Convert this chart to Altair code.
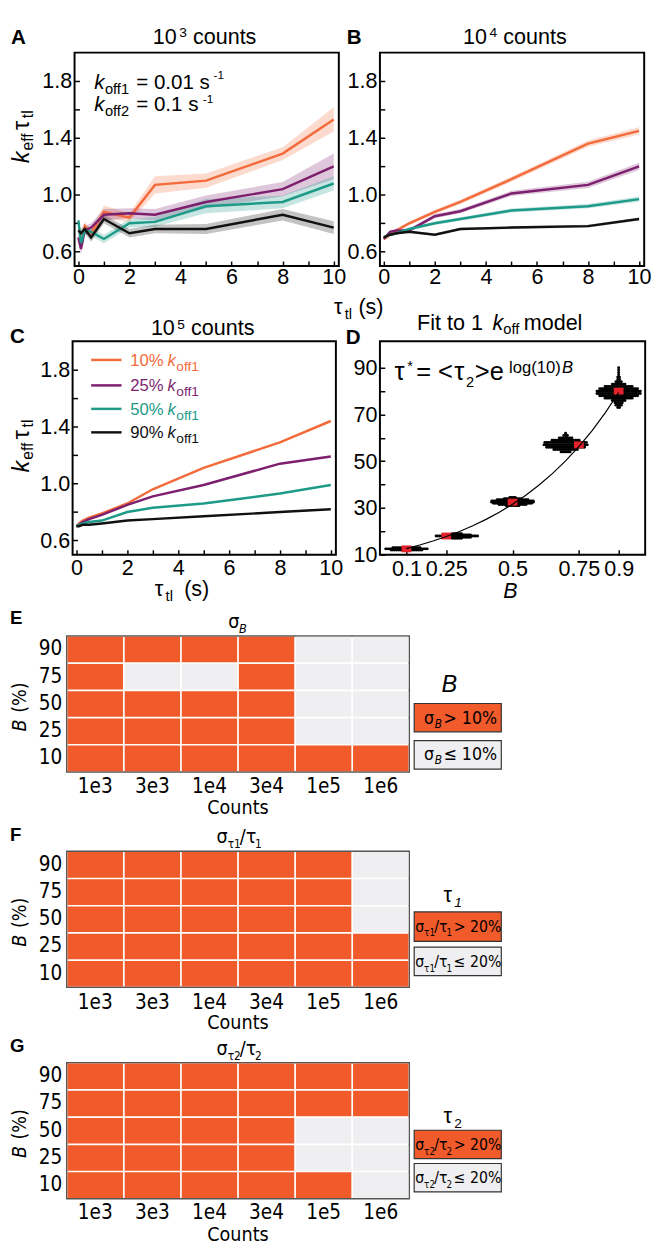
import altair as alt
import pandas as pd

SANS = "Liberation Sans"
NARROW = "'Liberation Sans Narrow', 'DejaVu Sans Condensed', 'Liberation Sans', sans-serif"
ORANGE = "#F15A2B"
GRAY = "#EFEFF1"
RED = "#E4222B"

# ---------------- data ----------------
TAU_TL = [0, 0.1, 0.25, 0.5, 1, 2, 3, 5, 8, 10]
SERIES = ["10% koff1", "25% koff1", "50% koff1", "90% koff1"]
LINE_COLORS = ["#F36B3B", "#7D1F6F", "#1E9A89", "#111111"]

# panel A: 10^3 counts
A_10 = [0.68, 0.66, 0.78, 0.73, 0.88, 0.84, 1.07, 1.10, 1.29, 1.53]
A_25 = [0.70, 0.62, 0.75, 0.77, 0.86, 0.87, 0.86, 0.95, 1.04, 1.20]
A_50 = [0.82, 0.66, 0.75, 0.74, 0.69, 0.80, 0.81, 0.92, 0.95, 1.08]
A_90 = [0.75, 0.73, 0.76, 0.70, 0.83, 0.73, 0.76, 0.76, 0.86, 0.77]
A_10_ERR = [0.03, 0.03, 0.03, 0.03, 0.045, 0.03, 0.06, 0.05, 0.045, 0.085]
A_25_ERR = [0.03, 0.04, 0.03, 0.03, 0.04, 0.035, 0.04, 0.045, 0.05, 0.09]
A_50_ERR = [0.03, 0.04, 0.03, 0.03, 0.03, 0.03, 0.035, 0.05, 0.045, 0.05]
A_90_ERR = [0.03, 0.03, 0.03, 0.03, 0.03, 0.03, 0.03, 0.035, 0.04, 0.045]

# panel B: 10^4 counts
B_10 = [0.69, 0.70, 0.72, 0.75, 0.80, 0.88, 0.95, 1.11, 1.36, 1.45]
B_25 = [0.69, 0.71, 0.74, 0.75, 0.75, 0.85, 0.885, 1.01, 1.07, 1.20]
B_50 = [0.70, 0.71, 0.72, 0.73, 0.76, 0.80, 0.83, 0.89, 0.92, 0.97]
B_90 = [0.70, 0.71, 0.72, 0.73, 0.74, 0.72, 0.76, 0.77, 0.78, 0.83]
B_10_ERR = [0.01, 0.01, 0.01, 0.012, 0.012, 0.015, 0.015, 0.018, 0.022, 0.025]
B_25_ERR = [0.01, 0.01, 0.01, 0.012, 0.012, 0.015, 0.015, 0.018, 0.022, 0.025]
B_50_ERR = [0.01, 0.01, 0.01, 0.01, 0.01, 0.012, 0.012, 0.014, 0.015, 0.018]
B_90_ERR = [0.008, 0.008, 0.008, 0.008, 0.008, 0.008, 0.008, 0.01, 0.01, 0.01]

# panel C: 10^5 counts
C_10 = [0.70, 0.72, 0.74, 0.76, 0.79, 0.86, 0.96, 1.11, 1.29, 1.44]
C_25 = [0.70, 0.71, 0.73, 0.75, 0.78, 0.85, 0.91, 0.99, 1.14, 1.19]
C_50 = [0.70, 0.71, 0.72, 0.73, 0.74, 0.80, 0.83, 0.86, 0.93, 0.99]
C_90 = [0.70, 0.70, 0.71, 0.71, 0.72, 0.74, 0.75, 0.77, 0.80, 0.82]

# panel D: fit to 1 koff model
D_B = [0.1, 0.25, 0.5, 0.75, 0.9]
D_MEAN = [12.5, 18.0, 32.5, 57.0, 80.0]
D_CLUSTER_X = [0.10, 0.29, 0.50, 0.70, 0.90]
D_LEVELS = [
    [12.0, 12.5, 13.0],
    [17.0, 17.5, 18.0, 18.5, 19.0],
    [31.0, 31.5, 32.0, 32.5, 33.0, 33.5, 34.0, 34.5],
    [54, 55, 56, 57, 58, 59, 60, 61, 62],
    [73, 74, 75, 76, 77, 78, 79, 80, 81, 82, 83, 84, 85, 86, 87, 88, 89, 90],
]
D_COUNTS = [
    [18, 24, 16],
    [6, 16, 24, 16, 6],
    [8, 16, 22, 24, 24, 18, 10, 4],
    [6, 14, 22, 25, 24, 16, 8, 3, 1],
    [2, 4, 5, 8, 16, 22, 25, 25, 22, 16, 8, 4, 2, 2, 1, 1, 1, 1],
]
FIT_B = [0.10, 0.15, 0.20, 0.25, 0.30, 0.35, 0.40, 0.45, 0.50, 0.55, 0.60, 0.65, 0.70, 0.75, 0.80, 0.85, 0.90]
FIT_TAU = [12.59, 14.13, 15.85, 17.78, 19.95, 22.39, 25.12, 28.18, 31.62, 35.48, 39.81, 44.67, 50.12, 56.23, 63.10, 70.79, 79.43]

# panels E-G: heatmaps (1 = above threshold)
COUNTS = ["1e3", "3e3", "1e4", "3e4", "1e5", "1e6"]
B_PCT = ["90", "75", "50", "25", "10"]
E_HI = [[1, 1, 1, 1, 0, 0], [1, 0, 0, 1, 0, 0], [1, 1, 1, 1, 0, 0], [1, 1, 1, 1, 0, 0], [1, 1, 1, 1, 1, 1]]
F_HI = [[1, 1, 1, 1, 1, 0], [1, 1, 1, 1, 1, 0], [1, 1, 1, 1, 1, 0], [1, 1, 1, 1, 1, 1], [1, 1, 1, 1, 1, 1]]
G_HI = [[1, 1, 1, 1, 1, 1], [1, 1, 1, 1, 1, 1], [1, 1, 1, 1, 0, 0], [1, 1, 1, 1, 0, 0], [1, 1, 1, 1, 1, 0]]

ONE = pd.DataFrame({"k": [0]})

GAP1, GAP2, GAP3, GAP4 = 295, 301, 81, 77


def T(o, s, sx, sy, size, italic=False, bold=False, color="black", angle=None,
      align="left", font=SANS):
    kw = dict(align=align, baseline="alphabetic", fontSize=size, font=font, color=color)
    if italic:
        kw["fontStyle"] = "italic"
    if bold:
        kw["fontWeight"] = "bold"
    if angle is not None:
        kw["angle"] = angle
    return alt.Chart(ONE).mark_text(**kw).encode(
        x=alt.value(sx - o[0]), y=alt.value(sy - o[1]), text=alt.value(s))


def spacer(w, h):
    return alt.Chart(ONE).mark_point(opacity=0).encode(
        x=alt.value(0), y=alt.value(0)
    ).properties(width=w, height=h, view=alt.ViewBackground(stroke=None))


def x_axis_lin(pad):
    return alt.Axis(values=list(range(11)),
                    labelExpr="datum.value % 2 == 0 ? format(datum.value, 'd') : ''",
                    tickSize=5, offset=-5, labelPadding=pad, labelFont=SANS,
                    labelFontSize=22, labelColor="black", tickColor="black",
                    tickWidth=1.5, domain=False, grid=False, title=None,
                    labelFlush=False, labelOverlap=False)


def y_axis_lin():
    return alt.Axis(values=[0.6, 0.8, 1.0, 1.2, 1.4, 1.6, 1.8],
                    labelExpr="round(datum.value*10) % 4 == 2 ? format(datum.value, '.1f') : ''",
                    tickSize=5, offset=-5, labelPadding=3, labelFont=SANS,
                    labelFontSize=22, labelColor="black", tickColor="black",
                    tickWidth=1.5, domain=False, grid=False, title=None,
                    labelOverlap=False)


def line_panel(ys, errs, xpad):
    rows = []
    for s, c, vals, er in zip(SERIES, LINE_COLORS, ys, errs):
        for x, v, e in zip(TAU_TL, vals, er):
            rows.append({"series": s, "col": c, "x": x, "y": v, "lo": v - e, "hi": v + e})
    df = pd.DataFrame(rows)
    xs = alt.Scale(domain=[-0.15, 10.2], nice=False, zero=False)
    ysc = alt.Scale(domain=[0.5, 2.0], nice=False, zero=False)
    col = alt.Color("col:N", scale=None)
    X = alt.X("x:Q", scale=xs, axis=x_axis_lin(xpad))
    layers = []
    if any(any(e > 0 for e in er) for er in errs):
        layers.append(alt.Chart(df).mark_area(opacity=0.25, clip=True).encode(
            x=X, y=alt.Y("lo:Q", scale=ysc, axis=y_axis_lin()), y2="hi:Q", color=col,
            detail="series:N"))
    layers.append(alt.Chart(df).mark_line(strokeWidth=2.5, clip=True).encode(
        x=X, y=alt.Y("y:Q", scale=ysc, axis=y_axis_lin()), color=col, detail="series:N"))
    return layers


def ytitle_k(o, x, y0):
    # k_eff tau_tl rotated, reading upward from (x, y0)
    return [T(o, "k", x, y0, 24, italic=True, angle=270),
            T(o, "eff", x + 5, y0 - 13, 16, angle=270),
            T(o, "\u03c4", x, y0 - 34, 24, angle=270),
            T(o, "tl", x + 5, y0 - 46, 16, angle=270)]


def title_counts(o, exp, x, y):
    return [T(o, "10", x, y, 22), T(o, exp, x + 27, y - 7, 14), T(o, "counts", x + 41, y, 22)]


FRAME = alt.ViewBackground(stroke="black", strokeWidth=2)

# ---------------- panel A ----------------
oA = (75, 39)
a_layers = line_panel([A_10, A_25, A_50, A_90], [A_10_ERR, A_25_ERR, A_50_ERR, A_90_ERR], 1)
a_layers += [T(oA, "A", 10, 30, 21, bold=True)]
a_layers += title_counts(oA, "3", 155, 30)
a_layers += ytitle_k(oA, 28, 152)
a_layers += [T(oA, "k", 95, 76, 21, italic=True), T(oA, "off1", 106, 81, 15),
             T(oA, "= 0.01 s", 138, 76, 21), T(oA, "-1", 217, 66, 12),
             T(oA, "k", 95, 99, 21, italic=True), T(oA, "off2", 106, 104, 15),
             T(oA, "= 0.1 s", 138, 99, 21), T(oA, "-1", 206, 90, 12)]
a_layers += [T(oA, "\u03c4", 340, 306, 22), T(oA, "tl", 351, 311, 15), T(oA, "(s)", 365, 306, 22)]
a_layers += [alt.Chart(ONE).mark_rect(opacity=0).encode(
    x=alt.value(8 - oA[0]), x2=alt.value(8 - oA[0]), y=alt.value(8 - oA[1]), y2=alt.value(8 - oA[1]))]
panelA = alt.layer(*a_layers).properties(width=270, height=218, view=FRAME)

# ---------------- panel B ----------------
oB = (387, 39)
b_layers = line_panel([B_10, B_25, B_50, B_90], [B_10_ERR, B_25_ERR, B_50_ERR, B_90_ERR], 1)
b_layers += [T(oB, "B", 353, 30, 21, bold=True)]
b_layers += title_counts(oB, "4", 472, 30)
panelB = alt.layer(*b_layers).properties(width=270, height=218, view=FRAME)

# ---------------- panel C ----------------
oC = (73, 334)
zero = [0] * 10
c_layers = line_panel([C_10, C_25, C_50, C_90], [zero, zero, zero, zero], 3)
c_layers += [T(oC, "C", 9, 336, 21, bold=True)]
c_layers += title_counts(oC, "5", 153, 328)
c_layers += ytitle_k(oC, 28, 468)
leg_y = [353, 379, 403, 427]
for s, c, ly in zip(["10%", "25%", "50%", "90%"], LINE_COLORS, leg_y):
    c_layers.append(alt.Chart(ONE).mark_rule(color=c, strokeWidth=2.5).encode(
        x=alt.value(92 - oC[0]), x2=alt.value(123 - oC[0]), y=alt.value(ly - oC[1])))
    c_layers += [T(oC, s, 132, ly + 6, 17, color=c), T(oC, "k", 170, ly + 6, 17, italic=True, color=c),
                 T(oC, "off1", 179, ly + 11, 14, color=c)]
c_layers += [T(oC, "\u03c4", 157, 594, 22), T(oC, "tl", 168, 599, 15), T(oC, "(s)", 187, 594, 22)]
panelC = alt.layer(*c_layers).properties(width=269, height=218, view=FRAME)

# ---------------- panel D ----------------
oD = (387, 334)
DX = 0.0068
dots = []
for cx, levels, counts in zip(D_CLUSTER_X, D_LEVELS, D_COUNTS):
    for lv, n in zip(levels, counts):
        for i in range(n):
            dots.append({"B": cx + (i - (n - 1) / 2) * DX, "tau": lv})
dots_df = pd.DataFrame(dots)
mean_df = pd.DataFrame({"B": D_B, "tau": D_MEAN})
fit_df = pd.DataFrame({"B": FIT_B, "tau": FIT_TAU})
dxs = alt.Scale(domain=[0, 1], nice=False, zero=False)
dys = alt.Scale(domain=[10, 101.3], nice=False, zero=False)
dxa = alt.Axis(values=D_B, labelExpr="format(datum.value, '.2~f')", tickSize=5, offset=-5,
               labelPadding=4, labelFont=SANS, labelFontSize=22, labelColor="black",
               tickColor="black", tickWidth=1.5, domain=False, grid=False, title=None,
               labelFlush=False, labelOverlap=False)
dya = alt.Axis(values=list(range(10, 100, 10)),
               labelExpr="datum.value % 20 == 10 ? format(datum.value, 'd') : ''",
               tickSize=5, offset=-5, labelPadding=3, labelFont=SANS, labelFontSize=22,
               labelColor="black", tickColor="black", tickWidth=1.5, domain=False,
               grid=False, title=None, labelOverlap=False)
DXE = alt.X("B:Q", scale=dxs, axis=dxa)
DYE = alt.Y("tau:Q", scale=dys, axis=dya)
d_layers = [
    alt.Chart(dots_df).mark_circle(size=9, color="black", opacity=1).encode(x=DXE, y=DYE),
    alt.Chart(mean_df).mark_point(shape="M-1.43,-1H1.43V1H-1.43Z", filled=True, size=49,
                                   color=RED, opacity=1).encode(x=DXE, y=DYE),
    alt.Chart(fit_df).mark_line(color="black", strokeWidth=1.2).encode(x=DXE, y=DYE),
]
d_layers += [T(oD, "D", 352, 337, 21, bold=True)]
d_layers += [T(oD, "Fit to 1", 425, 322, 22), T(oD, "k", 502, 322, 22, italic=True),
             T(oD, "off", 513, 327, 15), T(oD, "model", 534, 322, 22)]
d_layers += [T(oD, "\u03c4", 402, 373, 26), T(oD, "*", 415, 364, 15), T(oD, "= <", 424, 373, 26),
             T(oD, "\u03c4", 463, 373, 26), T(oD, "2", 475, 381, 15), T(oD, ">e", 484, 373, 26),
             T(oD, "log(10)", 519, 366, 17), T(oD, "B", 573, 366, 17, italic=True)]
d_layers += [T(oD, "B", 513, 596, 22, italic=True)]
panelD = alt.layer(*d_layers).properties(width=271, height=218, view=FRAME)


# ---------------- heatmaps ----------------
def heat_layers(matrix, pad):
    rows = []
    for i, b in enumerate(B_PCT):
        for j, c in enumerate(COUNTS):
            rows.append({"b": b, "c": c, "fill": ORANGE if matrix[i][j] else GRAY})
    df = pd.DataFrame(rows)
    return [alt.Chart(df).mark_rect().encode(
        x=alt.X("c:N", sort=COUNTS, scale=alt.Scale(paddingInner=0.03, paddingOuter=0.015),
                axis=alt.Axis(title=None, labelAngle=0, ticks=False, domain=False, labelFont=NARROW,
                              labelFontSize=21, labelColor="black", labelPadding=pad)),
        y=alt.Y("b:N", sort=B_PCT, scale=alt.Scale(paddingInner=0.06, paddingOuter=0.03),
                axis=alt.Axis(title=None, ticks=False, domain=False, labelFont=NARROW,
                              labelFontSize=21, labelColor="black", labelPadding=5)),
        color=alt.Color("fill:N", scale=None))]


def heat_common(o, letter, letter_y, xtitle_y):
    cy = o[1] + 69.5
    return [T(o, letter, 9, letter_y, 19, bold=True),
            T(o, "B", 25, cy + 28, 20, italic=True, angle=270, font=NARROW),
            T(o, "(%)", 25, cy + 9, 20, angle=270, font=NARROW),
            T(o, "Counts", 242, xtitle_y, 20, align="center", font=NARROW)]


def box(o, y1, y2, fill):
    return alt.Chart(ONE).mark_rect(fill=fill, stroke="#333333", strokeWidth=1.2).encode(
        x=alt.value(422 - o[0]), x2=alt.value(511 - o[0]), y=alt.value(y1 - o[1]), y2=alt.value(y2 - o[1]))


HFRAME = alt.ViewBackground(stroke="#555555", strokeWidth=1.5)

# E
oE = (67, 635)
e_layers = heat_layers(E_HI, 4) + heat_common(oE, "E", 623, 817)
e_layers += [T(oE, "\u03c3", 232, 627, 20, font=NARROW), T(oE, "B", 243, 632, 13, italic=True, font=NARROW)]
e_layers += [T(oE, "B", 458, 692, 24, italic=True, align="center"),
             box(oE, 704, 733, ORANGE), box(oE, 742, 771, GRAY)]
for yb, sym in [(725, "> 10%"), (762, "\u2264 10%")]:
    e_layers += [T(oE, "\u03c3", 432, yb, 18, font=NARROW), T(oE, "B", 443, yb + 4, 12, italic=True, font=NARROW),
                 T(oE, sym, 452, yb, 18, font=NARROW)]
panelE = alt.layer(*e_layers).properties(width=350, height=139, view=HFRAME)


def tau_ratio(o, idx, x, y, size, sub):
    x1 = x + 0.57 * size
    x2 = x1 + 1.0 * sub + 0.5
    x3 = x2 + 0.3 * size
    x4 = x3 + 0.47 * size
    return [T(o, "\u03c3", x, y, size, font=NARROW),
            T(o, "\u03c4" + idx, x1, y + 5, sub, font=NARROW),
            T(o, "/", x2, y, size, font=NARROW),
            T(o, "\u03c4", x3, y, size, font=NARROW),
            T(o, idx, x4, y + 5, sub, font=NARROW)], x4 + 0.556 * sub + 2


def tau_panel(o, matrix, pad, letter, letter_y, xtitle_y, title_y, idx, leg_y, b1, b2, t1, t2):
    layers = heat_layers(matrix, pad) + heat_common(o, letter, letter_y, xtitle_y)
    layers += tau_ratio(o, idx, 220, title_y, 20, 12)[0]
    layers += [T(o, "\u03c4", 452, leg_y, 22), T(o, idx, 463, leg_y + 5, 14, italic=(idx == "1")),
               box(o, b1[0], b1[1], ORANGE), box(o, b2[0], b2[1], GRAY)]
    for ty, sym in [(t1, "> 20%"), (t2, "\u2264 20%")]:
        marks, xe = tau_ratio(o, idx, 423, ty, 16, 10)
        layers += marks + [T(o, sym, xe, ty, 16, font=NARROW)]
    return alt.layer(*layers).properties(width=350, height=139, view=HFRAME)


panelF = tau_panel((67, 855), F_HI, 5, "F", 845, 1037, 847, "1", 907, (917, 947), (953, 982), 937, 973)
panelG = tau_panel((67, 1071), G_HI, 3, "G", 1060, 1253, 1063, "2", 1133, (1140, 1169), (1174, 1203), 1160, 1194)

row1 = alt.hconcat(spacer(8, 1), panelA, spacer(42, 1), panelB, spacing=0, bounds="flush")
row2 = alt.hconcat(spacer(6, 1), panelC, spacer(45, 1), panelD, spacing=0, bounds="flush")

chart = alt.vconcat(
    row1, spacer(1, GAP1), row2, spacer(1, GAP2), panelE, spacer(1, GAP3), panelF, spacer(1, GAP4), panelG,
    spacing=0, bounds="flush", padding=0
).configure_view(stroke=None).configure(font=SANS)

chart.save("out.html", embed_options={"renderer": "svg", "actions": False})
